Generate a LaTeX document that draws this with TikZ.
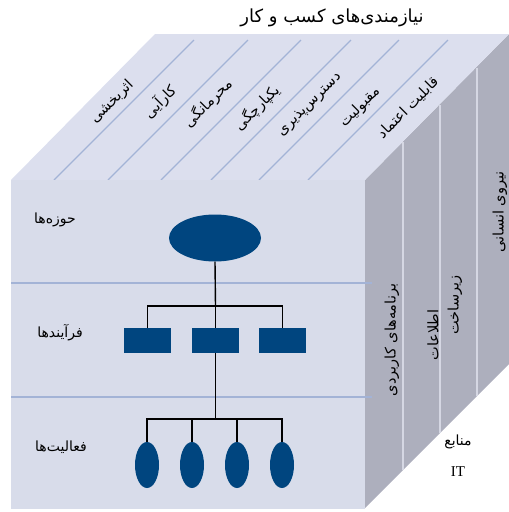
\documentclass[tikz,border=0pt]{standalone}
\usepackage{fontspec}
\usetikzlibrary{shapes.geometric}
\TeXXeTstate=1
\setmainfont{Liberation Serif}
\newfontfamily\fa[Script=Arabic]{DejaVu Sans}
\newcommand\fatext[1]{{\fa\beginR #1\endR}}
\definecolor{frontc}{HTML}{D8DCEA}
\definecolor{topc}{HTML}{DCDFEE}
\definecolor{rightc}{HTML}{ADAFBD}
\definecolor{divc}{HTML}{D5D7E3}
\definecolor{gridc}{HTML}{A3B3D6}
\definecolor{navy}{HTML}{00457F}
\begin{document}
\begin{tikzpicture}[x=1pt,y=-1pt,
  lbl/.style={inner sep=0pt,font=\fontsize{14}{16}\selectfont},
  toplbl/.style={inner sep=0pt,rotate=45,font=\fontsize{14.5}{16}\selectfont},
  sidelbl/.style={inner sep=0pt,rotate=90,font=\fontsize{14.5}{16}\selectfont},
  gridline/.style={draw=gridc,line width=1.1pt},
  divline/.style={draw=divc,line width=1.6pt},
  link/.style={draw=black,line width=1.4pt},
  bigell/.style={ellipse,fill=navy,draw=none,minimum width=92pt,minimum height=47pt,inner sep=0pt},
  box/.style={rectangle,fill=navy,draw=none,minimum width=47pt,minimum height=25pt,inner sep=0pt},
  smallell/.style={ellipse,fill=navy,draw=none,minimum width=24pt,minimum height=46pt,inner sep=0pt}]
\useasboundingbox (0,0) rectangle (509,512);
% right face
\fill[rightc] (365,180) -- (509,34) -- (509,364) -- (365,508) -- cycle;
\draw[divline] (403,142) -- (403,470);
\draw[divline] (440,105) -- (440,433);
\draw[divline] (477,68) -- (477,396);
% top face
\fill[topc] (11,180) -- (155,34) -- (509,34) -- (365,180) -- cycle;
\foreach \xb in {54,108,161,211,259,308}
  \draw[gridline] (\xb,180) -- (\xb+140,40);
% front face
\fill[frontc] (11,180) rectangle (365,509);
\draw[gridline] (11,283) -- (372,283);
\draw[gridline] (11,397) -- (372,397);
% title
\node[lbl,font=\fontsize{18}{20}\selectfont] (title) at (332,18) {\fatext{نیازمندی‌های کسب و کار}};
% top labels
\node[toplbl] (t1) at (112,102) {\fatext{اثربخشی}};
\node[toplbl] (t2) at (160,102) {\fatext{کارآیی}};
\node[toplbl] (t3) at (208,103) {\fatext{محرمانگی}};
\node[toplbl] (t4) at (257,108) {\fatext{یکپارچگی}};
\node[toplbl] (t5) at (310,105) {\fatext{دسترس‌پذیری}};
\node[toplbl] (t6) at (360,107) {\fatext{مقبولیت}};
\node[toplbl] (t7) at (408,108) {\fatext{قابلیت اعتماد}};
% side labels
\node[sidelbl] (s1) at (392,340) {\fatext{برنامه‌های کاربردی}};
\node[sidelbl] (s2) at (433,335) {\fatext{اطلاعات}};
\node[sidelbl] (s3) at (455,305) {\fatext{زیرساخت}};
\node[sidelbl] (s4) at (500,212) {\fatext{نیروی انسانی}};
\node[lbl] (m1) at (458,442) {\fatext{منابع}};
\node[lbl,font=\fontsize{15}{17}\selectfont] (m2) at (458,472) {IT};
% layer labels
\node[lbl] (l1) at (55,220) {\fatext{حوزه‌ها}};
\node[lbl] (l2) at (60,333) {\fatext{فرآیندها}};
\node[lbl] (l3) at (61,447) {\fatext{فعالیت‌ها}};
% hierarchy
\node[bigell] (root) at (215,238) {};
\node[box] (r1) at (147.5,340.5) {};
\node[box] (r2) at (215.5,340.5) {};
\node[box] (r3) at (282.5,340.5) {};
\node[smallell] (e1) at (147,465) {};
\node[smallell] (e2) at (192,465) {};
\node[smallell] (e3) at (237,465) {};
\node[smallell] (e4) at (282,465) {};
\coordinate (j1) at (215.5,306);
\coordinate (j2) at (215.5,419);
\draw[link] (root.south) -- (j1);
\draw[link] (r1.north) |- (j1) -| (r3.north);
\draw[link] (j1) -- (r2.north);
\draw[link] (r2.south) -- (j2);
\draw[link] (e1.north) |- (j2) -| (e4.north);
\draw[link] (e2.north) -- (e2.north |- j2);
\draw[link] (e3.north) -- (e3.north |- j2);
\end{tikzpicture}
\end{document}
